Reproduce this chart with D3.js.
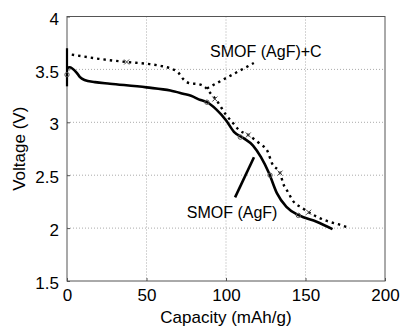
<!DOCTYPE html>
<html>
<head>
<meta charset="utf-8">
<script src="https://cdn.jsdelivr.net/npm/d3@7/dist/d3.min.js"></script>
<style>
body { margin: 0; background: #fff; }
text { font-family: "Liberation Sans", Arial, sans-serif; fill: #000; }
</style>
</head>
<body>
<div class="chart"></div>
<script>
// SMOF (AgF) - solid curve
var agfCap  = [0, 1.5, 6, 8, 11, 17.6, 27, 50, 65, 73, 78, 84, 88, 94, 100, 105, 111, 117, 122, 127, 132, 138, 146, 157, 167];
var agfVolt = [3.51, 3.52, 3.47, 3.43, 3.40, 3.38, 3.365, 3.33, 3.30, 3.27, 3.25, 3.21, 3.19, 3.12, 3.02, 2.91, 2.85, 2.78, 2.67, 2.52, 2.33, 2.20, 2.12, 2.06, 1.99];
var agfSpike = [3.70, 3.34];
var agfMarkCap  = [0, 88, 109, 127.7, 145.5];
var agfMarkVolt = [3.45, 3.19, 2.86, 2.50, 2.12];

// SMOF (AgF)+C - dotted curve
var agfcCap  = [3, 20, 37.5, 52, 60, 65, 70, 73, 77, 83, 87, 91, 94, 97, 100, 104, 108, 114, 121, 126, 129, 134, 136, 139, 142, 148, 152, 163, 172, 178];
var agfcVolt = [3.64, 3.60, 3.57, 3.55, 3.53, 3.51, 3.47, 3.41, 3.37, 3.36, 3.33, 3.26, 3.21, 3.14, 3.07, 3.00, 2.93, 2.88, 2.80, 2.73, 2.61, 2.52, 2.42, 2.34, 2.26, 2.19, 2.15, 2.07, 2.03, 2.00];
var agfcMarkCap  = [37.5, 93, 114, 134, 152];
var agfcMarkVolt = [3.57, 3.22, 2.88, 2.52, 2.15];

var xTicks = [0, 50, 100, 150, 200];
var yTicks = [1.5, 2, 2.5, 3, 3.5, 4];

// annotation labels and their pointer lines
var labels = ["SMOF (AgF)+C", "SMOF (AgF)"];
var labelCap  = [90, 75.3];
var labelVolt = [3.616, 2.10];
var pointerCap  = [[88, 117.5], [105.7, 117.6]];
var pointerVolt = [[3.32, 3.56], [2.29, 2.67]];

var w = 400, h = 329;
var pLeft = 67, pRight = 385, pTop = 16.5, pBottom = 281;

var svg = d3.select(".chart").append("svg")
    .attr("width", w)
    .attr("height", h);

var x = d3.scaleLinear().domain([0, 200]).range([pLeft, pRight]);
var y = d3.scaleLinear().domain([1.5, 4]).range([pBottom, pTop]);

// grid
var grid = svg.append("g");
grid.selectAll(".gx").data(xTicks.slice(1, -1)).enter().append("line")
    .attr("x1", function(d) { return x(d); })
    .attr("x2", function(d) { return x(d); })
    .attr("y1", pTop).attr("y2", pBottom)
    .attr("stroke", "#aaa").attr("stroke-width", 1)
    .attr("stroke-dasharray", "1,2");
grid.selectAll(".gy").data(yTicks.slice(1, -1)).enter().append("line")
    .attr("y1", function(d) { return y(d); })
    .attr("y2", function(d) { return y(d); })
    .attr("x1", pLeft).attr("x2", pRight)
    .attr("stroke", "#aaa").attr("stroke-width", 1)
    .attr("stroke-dasharray", "1,2");

// axes
var xAxis = svg.append("g")
    .attr("transform", "translate(0," + pBottom + ")")
    .call(d3.axisBottom(x).tickValues(xTicks).tickSizeInner(-3).tickSizeOuter(0).tickPadding(8));
var yAxis = svg.append("g")
    .attr("transform", "translate(" + pLeft + ",0)")
    .call(d3.axisLeft(y).tickValues(yTicks).tickSizeInner(-3).tickSizeOuter(0).tickPadding(8)
      .tickFormat(function(d) { return d3.format("")(d); }));
[xAxis, yAxis].forEach(function(a) {
  a.select(".domain").remove();
  a.selectAll("line").attr("stroke", "#555");
  a.selectAll("text").style("font-size", "17px").attr("fill", "#000");
});
yAxis.selectAll("text").attr("dy", "0.45em");

// frame
svg.append("rect")
    .attr("x", pLeft).attr("y", pTop)
    .attr("width", pRight - pLeft).attr("height", pBottom - pTop)
    .attr("fill", "none").attr("stroke", "#555").attr("stroke-width", 1);

var line = d3.line()
    .x(function(d) { return x(d[0]); })
    .y(function(d) { return y(d[1]); })
    .curve(d3.curveMonotoneX);

// dotted curve
var agfcPts = agfcCap.map(function(c, i) { return [c, agfcVolt[i]]; });
svg.append("path")
    .attr("d", line(agfcPts))
    .attr("fill", "none").attr("stroke", "#000")
    .attr("stroke-width", 2.4).attr("stroke-dasharray", "2.4,4");

// solid curve
var agfPts = agfCap.map(function(c, i) { return [c, agfVolt[i]]; });
svg.append("path")
    .attr("d", line(agfPts))
    .attr("fill", "none").attr("stroke", "#000")
    .attr("stroke-width", 2.6).attr("stroke-linejoin", "round");
svg.append("line")
    .attr("x1", x(0)).attr("x2", x(0))
    .attr("y1", y(agfSpike[0])).attr("y2", y(agfSpike[1]))
    .attr("stroke", "#000").attr("stroke-width", 2.2);

// markers
svg.selectAll(".mo").data(agfMarkCap).enter().append("circle")
    .attr("cx", function(d) { return x(d); })
    .attr("cy", function(d, i) { return y(agfMarkVolt[i]); })
    .attr("r", 2.2)
    .attr("fill", "none").attr("stroke", "#555").attr("stroke-width", 1);
svg.selectAll(".mx").data(agfcMarkCap).enter().append("path")
    .attr("transform", function(d, i) { return "translate(" + x(d) + "," + y(agfcMarkVolt[i]) + ")"; })
    .attr("d", "M-2.5,-2.5L2.5,2.5M-2.5,2.5L2.5,-2.5")
    .attr("stroke", "#444").attr("stroke-width", 1);

// pointers
svg.append("line")
    .attr("x1", x(pointerCap[0][0])).attr("y1", y(pointerVolt[0][0]))
    .attr("x2", x(pointerCap[0][1])).attr("y2", y(pointerVolt[0][1]))
    .attr("stroke", "#000").attr("stroke-width", 2.4).attr("stroke-dasharray", "2.4,4");
svg.append("line")
    .attr("x1", x(pointerCap[1][0])).attr("y1", y(pointerVolt[1][0]))
    .attr("x2", x(pointerCap[1][1])).attr("y2", y(pointerVolt[1][1]))
    .attr("stroke", "#000").attr("stroke-width", 2.6);

// labels
svg.selectAll(".lbl").data(labels).enter().append("text")
    .attr("x", function(d, i) { return x(labelCap[i]); })
    .attr("y", function(d, i) { return y(labelVolt[i]); })
    .style("font-size", "16px")
    .text(function(d) { return d; });

// axis titles
svg.append("text")
    .attr("x", (pLeft + pRight) / 2).attr("y", 323)
    .attr("text-anchor", "middle").style("font-size", "17px")
    .text("Capacity (mAh/g)");
svg.append("text")
    .attr("transform", "translate(25," + ((pTop + pBottom) / 2) + ") rotate(-90)")
    .attr("text-anchor", "middle").style("font-size", "17px")
    .text("Voltage (V)");
</script>
</body>
</html>
